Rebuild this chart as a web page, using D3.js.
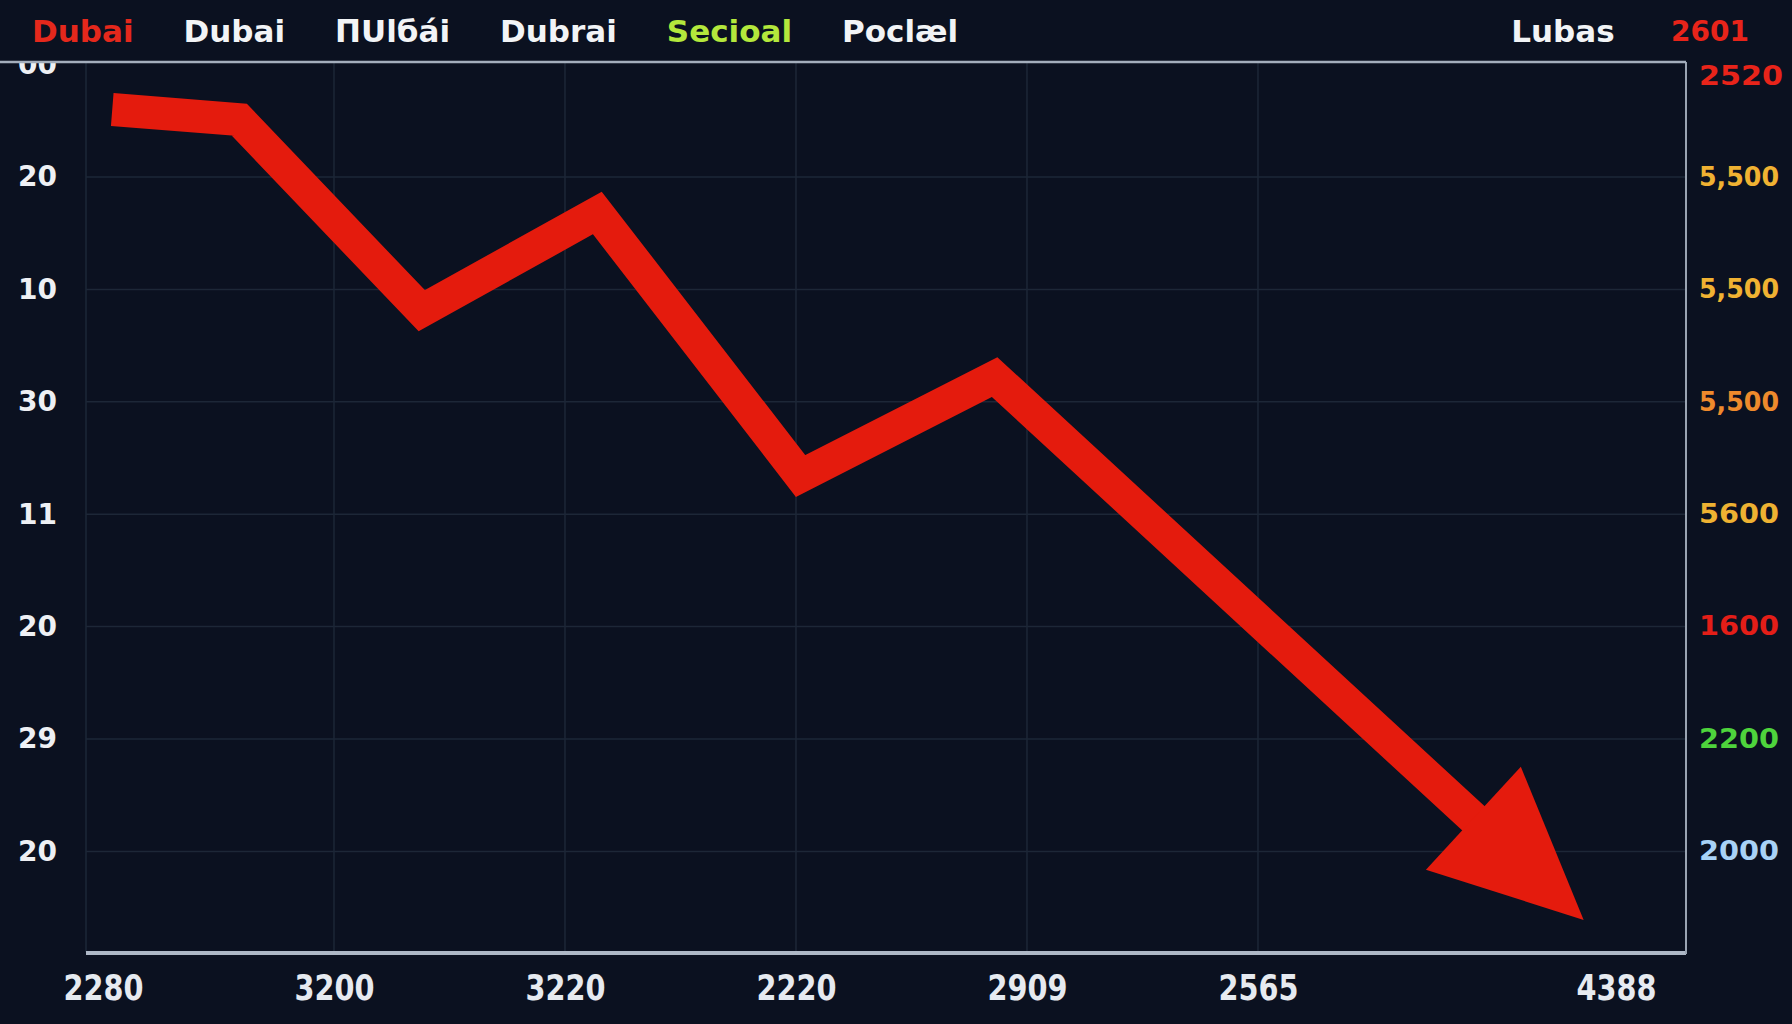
<!DOCTYPE html>
<html>
<head>
<meta charset="utf-8">
<script src="https://cdn.jsdelivr.net/npm/d3@7"></script>
<style>
  body { margin: 0; background: #0b1120; }
  text { font-family: "DejaVu Sans", sans-serif; font-weight: bold; }
</style>
</head>
<body>
<div class="chart"></div>
<script>
// chart values
var legendLabels = ["Dubai", "Dubai", "ΠUlбái", "Dubrai", "Secioal", "Poclæl"];
var legendColors = ["#e5281c", "#f2f4f6", "#f2f4f6", "#f2f4f6", "#b4e83c", "#f2f4f6"];
var cornerLabels = ["Lubas", "2601"];

var xLabels = ["2280", "3200", "3220", "2220", "2909", "2565", "4388"];
var xTicks = [0, 1, 2, 3, 4, 5, 6.55];

var leftLabels = ["00", "20", "10", "30", "11", "20", "29", "20"];
var rightLabels = ["2520", "5,500", "5,500", "5,500", "5600", "1600", "2200", "2000"];
var rightColors = ["#e8241a", "#f0b232", "#f0b232", "#ee8a2c", "#eeb232", "#e41e18", "#4ed43c", "#a8d2f6"];

// the falling line (x in tick units, y in left-tick units)
var lineX = [0.04, 0.59, 1.38, 2.14, 3.02, 3.86, 6.41];
var lineY = [0.40, 0.49, 2.19, 1.32, 3.66, 2.78, 7.61];

var svgWidth = 1792;
var svgHeight = 1024;
var margin = { top: 62, right: 106, bottom: 72, left: 86 };
var width = svgWidth - margin.left - margin.right;
var height = svgHeight - margin.top - margin.bottom;

var svg = d3.select(".chart")
  .append("svg")
  .attr("width", svgWidth)
  .attr("height", svgHeight);

svg.append("rect")
  .attr("width", svgWidth)
  .attr("height", svgHeight)
  .attr("fill", "#0b1120");

svg.append("clipPath")
  .attr("id", "plotClip")
  .append("rect")
  .attr("x", -margin.left)
  .attr("y", 0)
  .attr("width", svgWidth)
  .attr("height", height + margin.bottom);

var chartGroup = svg.append("g")
  .attr("transform", `translate(${margin.left}, ${margin.top})`);

// scales
var xScale = d3.scaleLinear()
  .domain([-0.0736, 6.853])
  .range([0, width]);

var yScale = d3.scaleLinear()
  .domain([-0.023, 7.895])
  .range([0, height]);

// grid
chartGroup.append("g")
  .selectAll("line")
  .data(d3.range(1, 8))
  .enter()
  .append("line")
  .attr("x1", 0)
  .attr("x2", width)
  .attr("y1", d => yScale(d))
  .attr("y2", d => yScale(d))
  .attr("stroke", "#1d2737")
  .attr("stroke-width", 1.5);

chartGroup.append("g")
  .selectAll("line")
  .data(xTicks.slice(1, 6))
  .enter()
  .append("line")
  .attr("x1", d => xScale(d))
  .attr("x2", d => xScale(d))
  .attr("y1", 0)
  .attr("y2", height)
  .attr("stroke", "#1d2737")
  .attr("stroke-width", 1.5);

chartGroup.append("line")
  .attr("x1", 0).attr("x2", 0)
  .attr("y1", 0).attr("y2", height)
  .attr("stroke", "#1d2737")
  .attr("stroke-width", 1.5);

// axes
var leftAxis = d3.axisLeft(yScale)
  .tickValues(d3.range(leftLabels.length))
  .tickFormat(i => leftLabels[i])
  .tickSize(0)
  .tickPadding(29);

var leftG = chartGroup.append("g")
  .attr("clip-path", "url(#plotClip)")
  .call(leftAxis);
leftG.select(".domain").remove();
leftG.selectAll("text")
  .attr("fill", "#eef0f4")
  .attr("font-size", "28px")
  .attr("font-family", "DejaVu Sans")
  .attr("font-weight", "bold");

var rightAxis = d3.axisRight(yScale)
  .tickValues(d3.range(rightLabels.length))
  .tickFormat(i => rightLabels[i])
  .tickSize(0)
  .tickPadding(13);

var rightG = chartGroup.append("g")
  .attr("transform", `translate(${width}, 0)`)
  .call(rightAxis);
rightG.select(".domain").remove();
rightG.selectAll("text")
  .attr("fill", (d, i) => rightColors[i])
  .attr("font-size", "26px")
  .attr("font-family", "DejaVu Sans")
  .attr("font-weight", "bold")
  .attr("textLength", 80)
  .attr("lengthAdjust", "spacingAndGlyphs");
// top label sits a little lower
rightG.selectAll(".tick").filter(d => d === 0)
  .select("text").attr("dy", "0.75em").attr("textLength", 84);

var bottomAxis = d3.axisBottom(xScale)
  .tickValues(xTicks)
  .tickFormat((d, i) => xLabels[i])
  .tickSize(0)
  .tickPadding(23);

var bottomG = chartGroup.append("g")
  .attr("transform", `translate(0, ${height})`)
  .call(bottomAxis);
bottomG.select(".domain").remove();
bottomG.selectAll("text")
  .attr("fill", "#e6eaf0")
  .attr("font-size", "35px")
  .attr("font-family", "DejaVu Sans")
  .attr("font-weight", "bold")
  .attr("textLength", 80)
  .attr("lengthAdjust", "spacingAndGlyphs")
  .attr("text-anchor", "middle");

// frame lines
chartGroup.append("line")
  .attr("x1", 0).attr("x2", width)
  .attr("y1", height + 1).attr("y2", height + 1)
  .attr("stroke", "#aeb8c6")
  .attr("stroke-width", 4);

chartGroup.append("line")
  .attr("x1", width).attr("x2", width)
  .attr("y1", 0).attr("y2", height + 2)
  .attr("stroke", "#9aa4b2")
  .attr("stroke-width", 2);

svg.append("line")
  .attr("x1", 0).attr("x2", margin.left + width)
  .attr("y1", margin.top).attr("y2", margin.top)
  .attr("stroke", "#a4aebc")
  .attr("stroke-width", 2.5);

// the red line with its arrow head
var pts = lineX.map((x, i) => [xScale(x), yScale(lineY[i])]);
var tip = pts[pts.length - 1];
var prev = pts[pts.length - 2];
var dx = tip[0] - prev[0];
var dy = tip[1] - prev[1];
var len = Math.sqrt(dx * dx + dy * dy);
var ux = dx / len, uy = dy / len;
var headLen = 150, headHalf = 70;
var base = [tip[0] - ux * headLen, tip[1] - uy * headLen];

var shaft = pts.slice(0, -1).concat([[tip[0] - ux * headLen * 0.6, tip[1] - uy * headLen * 0.6]]);

var line = d3.line();

chartGroup.append("path")
  .attr("d", line(shaft))
  .attr("fill", "none")
  .attr("stroke", "#e41b0d")
  .attr("stroke-width", 33)
  .attr("stroke-linejoin", "miter")
  .attr("stroke-linecap", "butt");

chartGroup.append("path")
  .attr("d", line([
    tip,
    [base[0] - uy * headHalf, base[1] + ux * headHalf],
    [base[0] + uy * headHalf, base[1] - ux * headHalf]
  ]) + "Z")
  .attr("fill", "#e41b0d");

// header legend
var legendG = svg.append("g")
  .attr("transform", "translate(32, 31)");

var xCursor = 0;
legendLabels.forEach(function (label, i) {
  var t = legendG.append("text")
    .attr("x", xCursor)
    .attr("dy", "0.35em")
    .attr("font-size", "31px")
    .attr("fill", legendColors[i])
    .text(label);
  xCursor += t.node().getComputedTextLength() + 50;
});

svg.append("text")
  .attr("x", 1563)
  .attr("y", 31)
  .attr("dy", "0.35em")
  .attr("text-anchor", "middle")
  .attr("font-size", "31px")
  .attr("fill", "#f2f4f6")
  .text(cornerLabels[0]);

svg.append("text")
  .attr("x", 1710)
  .attr("y", 31)
  .attr("dy", "0.35em")
  .attr("text-anchor", "middle")
  .attr("font-size", "28px")
  .attr("fill", "#e8241a")
  .text(cornerLabels[1]);
</script>
</body>
</html>
